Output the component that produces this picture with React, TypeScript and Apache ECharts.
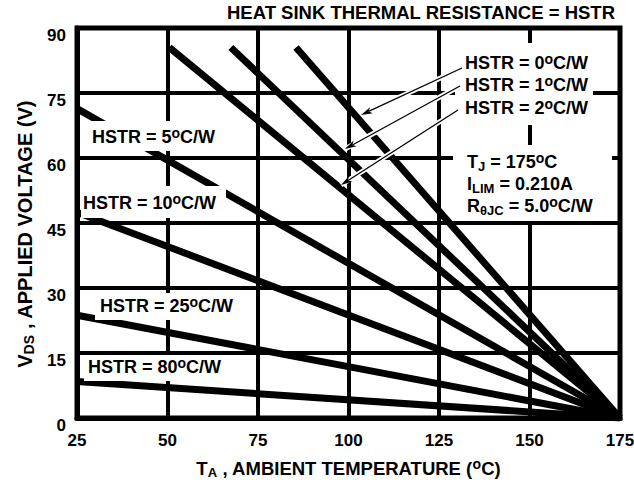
import React, { useEffect, useRef } from 'react';
import * as echarts from 'echarts';

// ---- data ----
const xTicks = [25, 50, 75, 100, 125, 150, 175];
const yTicks = [0, 15, 30, 45, 60, 75, 90];
const seriesNames = ['HSTR = 0', 'HSTR = 1', 'HSTR = 2', 'HSTR = 5', 'HSTR = 10', 'HSTR = 25', 'HSTR = 80'];
const hstr0 = [[85.5, 85.5], [175, 0]];
const hstr1 = [[67.5, 85.5], [175, 0]];
const hstr2 = [[50.5, 85.5], [175, 0]];
const hstr5 = [[25, 71.4], [175, 0]];
const hstr10 = [[25, 47.5], [175, 0]];
const hstr25 = [[25, 23.7], [175, 0]];
const hstr80 = [[25, 8.4], [175, 0]];
const seriesData = [hstr0, hstr1, hstr2, hstr5, hstr10, hstr25, hstr80];

const FONT = '"Liberation Sans", Arial, Helvetica, sans-serif';

const rich = (size: number, small: number = 13) => ({
  m: { fontSize: size, fontWeight: 'bold', fontFamily: FONT, color: '#000', lineHeight: 22, verticalAlign: 'middle' },
  sup: { fontSize: small + 1, fontWeight: 'bold', fontFamily: FONT, color: '#000', lineHeight: 8, verticalAlign: 'top' },
  sub: { fontSize: small, fontWeight: 'bold', fontFamily: FONT, color: '#000', lineHeight: 12, verticalAlign: 'bottom' },
});

function label(x: number, y: number, text: string, align: string = 'left', size: number = 18) {
  return {
    type: 'text',
    x,
    y,
    z: 60,
    style: {
      text,
      rich: rich(size),
      align,
      verticalAlign: 'middle',
      fontSize: size,
      fontWeight: 'bold',
      fontFamily: FONT,
      fill: '#000',
    },
  };
}

function box(x: number, y: number, w: number, h: number) {
  return { type: 'rect', z: 50, shape: { x, y, width: w, height: h }, style: { fill: '#fff' } };
}

function arrow(x1: number, y1: number, x2: number, y2: number) {
  const dir = Math.atan2(y1 - y2, x1 - x2);
  const len = 12;
  const ang = 0.28;
  const p1 = [x2 + len * Math.cos(dir + ang), y2 + len * Math.sin(dir + ang)];
  const p2 = [x2 + len * Math.cos(dir - ang), y2 + len * Math.sin(dir - ang)];
  const n = [x2 + len * 0.7 * Math.cos(dir), y2 + len * 0.7 * Math.sin(dir)];
  return [
    { type: 'line', z: 65, shape: { x1, y1, x2, y2 }, style: { stroke: '#fff', lineWidth: 5 } },
    { type: 'line', z: 70, shape: { x1, y1, x2: n[0], y2: n[1] }, style: { stroke: '#000', lineWidth: 1.3 } },
    { type: 'polygon', z: 70, shape: { points: [[x2, y2], p1, n, p2] }, style: { fill: '#000' } },
  ];
}

export default function App() {
  const ref = useRef<HTMLDivElement>(null);
  useEffect(() => {
    if (!ref.current) return;
    const chart = echarts.init(ref.current, undefined, { renderer: 'svg' });
    const axisLabel = { color: '#000', fontSize: 17, fontWeight: 'bold', fontFamily: FONT };
    const option: any = {
      animation: false,
      backgroundColor: '#fff',
      grid: {
        left: 77, right: 14, top: 28, bottom: 64,
        show: true, borderColor: '#000', borderWidth: 5, backgroundColor: 'transparent',
        containLabel: false, outerBoundsMode: 'none',
      },
      xAxis: {
        type: 'value', min: xTicks[0], max: xTicks[xTicks.length - 1], interval: 25,
        axisLine: { show: true, lineStyle: { color: '#000', width: 5 } },
        axisTick: { show: false },
        splitLine: { show: true, lineStyle: { color: '#000', width: 4 } },
        axisLabel: { ...axisLabel, margin: 14 },
        name: '{m|T}{sub|A}{m| , AMBIENT TEMPERATURE (}{sup|o}{m|C)}',
        nameLocation: 'middle',
        nameGap: 39,
        nameTextStyle: { rich: rich(18.5) },
      },
      yAxis: {
        type: 'value', min: yTicks[0], max: yTicks[yTicks.length - 1], interval: 15,
        axisLine: { show: true, lineStyle: { color: '#000', width: 5 } },
        axisTick: { show: false },
        splitLine: { show: true, lineStyle: { color: '#000', width: 4 } },
        axisLabel: { ...axisLabel, margin: 11, verticalAlign: 'top', lineHeight: 14 },
        name: '{m|V}{sub|DS}{m| , APPLIED VOLTAGE (V)}',
        nameLocation: 'middle',
        nameRotate: 90,
        nameGap: 28,
        nameTextStyle: { rich: rich(20, 14), padding: [0, 22, 0, 0] },
      },
      series: seriesData.map((d, i) => ({
        name: seriesNames[i],
        type: 'line',
        data: d,
        symbol: 'none',
        showSymbol: false,
        z: 3,
        lineStyle: { color: '#000', width: 7 },
      })),
      graphic: [
        label(615, 12, '{m|HEAT SINK THERMAL RESISTANCE = HSTR}', 'right', 18.5),
        box(455, 43, 138, 82),
        label(465, 63, '{m|HSTR = 0}{sup|o}{m|C/W}'),
        label(465, 85, '{m|HSTR = 1}{sup|o}{m|C/W}'),
        label(465, 108, '{m|HSTR = 2}{sup|o}{m|C/W}'),
        box(453, 145, 159, 76),
        label(467, 162, '{m|T}{sub|J}{m| = 175}{sup|o}{m|C}'),
        label(467, 184, '{m|I}{sub|LIM}{m| = 0.210A}'),
        label(467, 206, '{m|R}{sub|θJC}{m| = 5.0}{sup|o}{m|C/W}'),
        box(86, 121, 138, 30),
        label(92, 137, '{m|HSTR = 5}{sup|o}{m|C/W}'),
        box(81, 186, 145, 32),
        label(83, 203, '{m|HSTR = 10}{sup|o}{m|C/W}'),
        box(95, 293, 148, 27),
        label(100, 306, '{m|HSTR = 25}{sup|o}{m|C/W}'),
        box(84, 355, 146, 26),
        label(88, 367, '{m|HSTR = 80}{sup|o}{m|C/W}'),
        ...arrow(462, 68, 361, 115),
        ...arrow(460, 86, 345, 149),
        ...arrow(458, 110, 341, 185),
      ],
    };
    chart.setOption(option);
    return () => chart.dispose();
  }, []);
  return <div ref={ref} style={{ position: 'absolute', left: 0, top: 0, width: 634, height: 482 }} />;
}
